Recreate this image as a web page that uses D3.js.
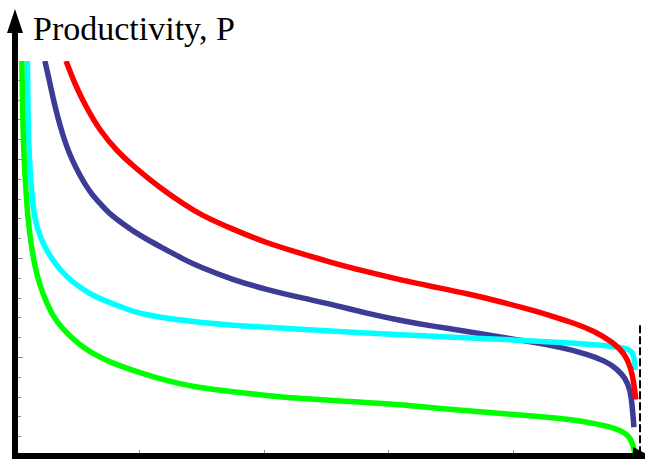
<!DOCTYPE html>
<html>
<head>
<meta charset="utf-8">
<script src="https://cdn.jsdelivr.net/npm/d3@7/dist/d3.min.js"></script>
<style>
  html, body { margin: 0; padding: 0; background: #fff; }
  svg { display: block; }
</style>
</head>
<body>
<svg id="chart" width="645" height="459"></svg>
<script>
// Productivity curves P(x) on the unit interval, each as [x, P] pairs
const redCurve = [
  [0.082, 3.99], [0.096, 3.76], [0.113, 3.54], [0.137, 3.28], [0.164, 3.08],
  [0.190, 2.93], [0.217, 2.79], [0.244, 2.66], [0.270, 2.55], [0.297, 2.44],
  [0.350, 2.29], [0.405, 2.15], [0.458, 2.05], [0.511, 1.95], [0.566, 1.86],
  [0.619, 1.78], [0.672, 1.71], [0.727, 1.64], [0.780, 1.56], [0.833, 1.47],
  [0.865, 1.41], [0.900, 1.34], [0.932, 1.26], [0.961, 1.15], [0.981, 1.03],
  [0.990, 0.89], [0.995, 0.74], [0.998, 0.57]
];
const blueCurve = [
  [0.048, 3.99], [0.055, 3.80], [0.061, 3.62], [0.068, 3.44], [0.076, 3.26],
  [0.084, 3.11], [0.092, 2.99], [0.103, 2.85], [0.114, 2.73], [0.125, 2.63],
  [0.137, 2.55], [0.150, 2.46], [0.164, 2.39], [0.177, 2.33], [0.190, 2.27],
  [0.217, 2.17], [0.244, 2.08], [0.270, 1.99], [0.297, 1.91], [0.350, 1.78],
  [0.405, 1.68], [0.458, 1.60], [0.511, 1.53], [0.566, 1.44], [0.619, 1.37],
  [0.672, 1.31], [0.727, 1.26], [0.780, 1.20], [0.833, 1.15], [0.876, 1.10],
  [0.920, 1.03], [0.949, 0.96], [0.968, 0.88], [0.981, 0.79], [0.989, 0.67],
  [0.992, 0.52], [0.994, 0.38], [0.995, 0.29]
];
const cyanCurve = [
  [0.020, 3.99], [0.021, 3.39], [0.023, 2.99], [0.027, 2.64], [0.032, 2.38],
  [0.040, 2.22], [0.051, 2.07], [0.066, 1.93], [0.084, 1.80], [0.105, 1.70],
  [0.125, 1.62], [0.148, 1.56], [0.169, 1.51], [0.190, 1.46], [0.217, 1.42],
  [0.244, 1.39], [0.297, 1.35], [0.350, 1.32], [0.405, 1.30], [0.458, 1.28],
  [0.566, 1.24], [0.672, 1.21], [0.780, 1.18], [0.876, 1.15], [0.941, 1.12],
  [0.973, 1.10], [0.986, 1.08], [0.992, 1.05], [0.995, 1.00], [0.9965, 0.94],
  [0.997, 0.87]
];
const greenCurve = [
  [0.011, 3.99], [0.0125, 3.39], [0.0145, 2.99], [0.018, 2.64], [0.021, 2.38],
  [0.026, 2.13], [0.032, 1.91], [0.040, 1.72], [0.050, 1.56], [0.061, 1.41],
  [0.076, 1.29], [0.092, 1.19], [0.111, 1.09], [0.132, 1.01], [0.153, 0.95],
  [0.169, 0.91], [0.201, 0.84], [0.233, 0.78], [0.265, 0.73], [0.297, 0.69],
  [0.350, 0.65], [0.405, 0.61], [0.458, 0.58], [0.539, 0.55], [0.619, 0.52],
  [0.699, 0.47], [0.780, 0.43], [0.844, 0.40], [0.892, 0.37], [0.932, 0.33],
  [0.960, 0.29], [0.976, 0.25], [0.987, 0.20], [0.992, 0.14], [0.995, 0.07],
  [0.997, 0.01]
];

// Drawing order (later series sit on top)
const seriesNames = ["blue", "cyan", "red", "green"];
const seriesData = [blueCurve, cyanCurve, redCurve, greenCurve];
const seriesColors = ["#3c3c96", "#00ffff", "#ff0000", "#00ff00"];

const xTickValues = [0.2, 0.4, 0.6, 0.8];
const yMajorTicks = [1, 2, 3];
const yMinorTicks = d3.range(0.2, 4.0, 0.2).filter(v => Math.abs(v - Math.round(v)) > 1e-6);
const upperBoundX = 1;
const axisTitle = "Productivity, P";

const svg = d3.select("#chart");
const x = d3.scaleLinear().domain([0, 1]).range([15, 637]);
const y = d3.scaleLinear().domain([0, 4]).range([456, 60]);

// Clip region for the curves (top of the plotting range)
svg.append("defs").append("clipPath").attr("id", "plotClip")
  .append("rect")
  .attr("x", x(0)).attr("y", y(4) + 1)
  .attr("width", 645 - x(0)).attr("height", y(0) - y(4));

// Small gray ticks along the inside of the axes
const tickG = svg.append("g").attr("stroke", "#8a8a8a").attr("stroke-width", 1);
tickG.selectAll("line.ymaj").data(yMajorTicks).join("line")
  .attr("x1", x(0) + 3).attr("x2", x(0) + 8)
  .attr("y1", d => y(d) + 0.5).attr("y2", d => y(d) + 0.5);
tickG.selectAll("line.ymin").data(yMinorTicks).join("line")
  .attr("x1", x(0) + 3).attr("x2", x(0) + 6)
  .attr("y1", d => Math.round(y(d)) + 0.5).attr("y2", d => Math.round(y(d)) + 0.5);
tickG.selectAll("line.xt").data(xTickValues).join("line")
  .attr("x1", d => Math.round(x(d)) + 0.5).attr("x2", d => Math.round(x(d)) + 0.5)
  .attr("y1", y(0) - 3).attr("y2", y(0) - 6);

// Curves (B-spline through the sampled points)
const line = d3.line()
  .x(d => x(d[0]))
  .y(d => y(d[1]))
  .curve(d3.curveBasis);

svg.append("g").attr("clip-path", "url(#plotClip)")
  .selectAll("path").data(seriesData).join("path")
  .attr("class", (d, i) => "curve " + seriesNames[i])
  .attr("d", line)
  .attr("fill", "none")
  .attr("stroke", (d, i) => seriesColors[i])
  .attr("stroke-width", 5.5)
  .attr("stroke-linecap", "butt")
  .attr("stroke-linejoin", "round");

// Dashed bound at x = 1
svg.append("line")
  .attr("x1", x(upperBoundX) + 3).attr("x2", x(upperBoundX) + 3)
  .attr("y1", y(1.32)).attr("y2", y(0))
  .attr("stroke", "#000").attr("stroke-width", 2)
  .attr("stroke-dasharray", "8,3");

// Axes with arrowheads
const axisG = svg.append("g");
axisG.append("line")
  .attr("x1", x(0)).attr("x2", x(0))
  .attr("y1", 28).attr("y2", 459)
  .attr("stroke", "#000").attr("stroke-width", 6);
axisG.append("path")
  .attr("d", `M${x(0) - 8},33 L${x(0)},9 L${x(0) + 8},33 Z`)
  .attr("fill", "#000");
axisG.append("line")
  .attr("x1", x(0) - 3).attr("x2", 636)
  .attr("y1", y(0)).attr("y2", y(0))
  .attr("stroke", "#000").attr("stroke-width", 6);
axisG.append("path")
  .attr("d", `M633,${y(0) - 9} L650,${y(0)} L633,${y(0) + 9} Z`)
  .attr("fill", "#000");

// Axis title
svg.append("text")
  .attr("x", 33).attr("y", 40)
  .attr("font-family", "'Liberation Serif', 'DejaVu Serif', serif")
  .attr("font-size", 34)
  .attr("fill", "#000")
  .text(axisTitle);
</script>
</body>
</html>
